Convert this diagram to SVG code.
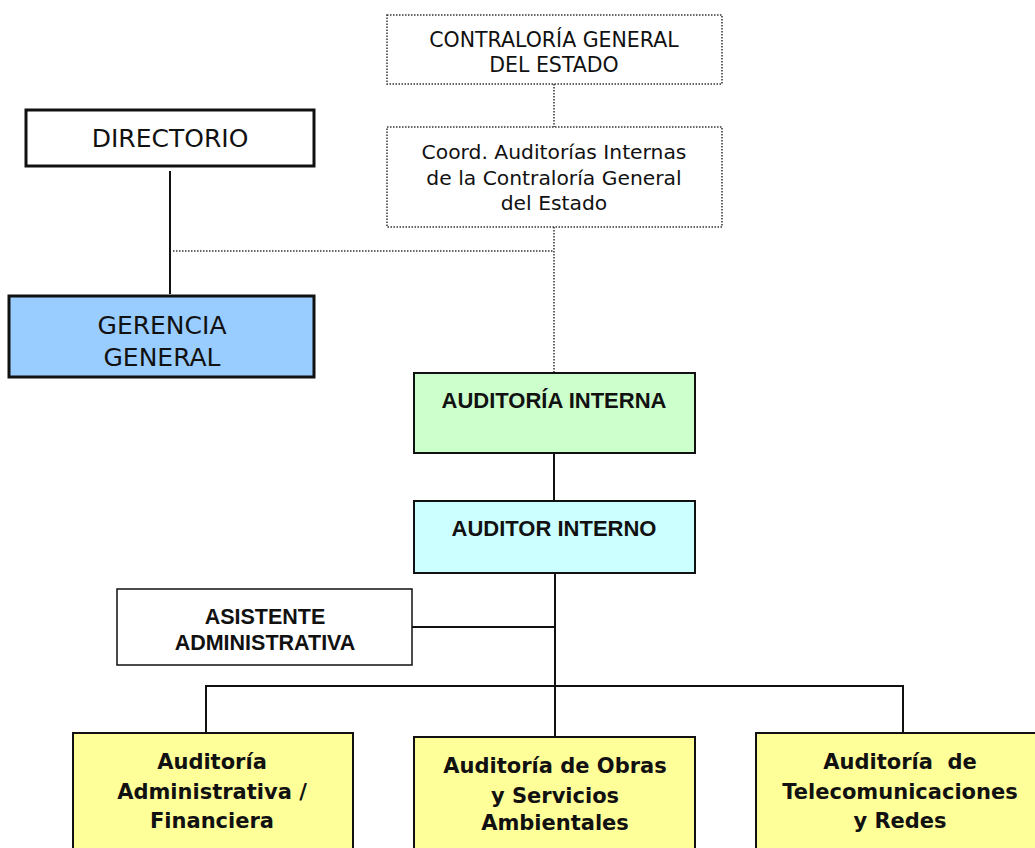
<svg xmlns="http://www.w3.org/2000/svg" width="1035" height="848" viewBox="0 0 1035 848">
<style>
.reg{font-family:"DejaVu Sans",Verdana,sans-serif;fill:#111;text-anchor:middle}
.bold{font-family:"Liberation Sans",Arial,sans-serif;font-weight:bold;fill:#111;text-anchor:middle}
.bold2{font-family:"DejaVu Sans",Verdana,sans-serif;font-weight:bold;fill:#111;text-anchor:middle;font-size:21px}
.dot{fill:#fff;stroke:#333;stroke-width:1.5;stroke-dasharray:1.5 1.5}
.thick{stroke:#111;stroke-width:3}
.box{stroke:#111;stroke-width:2}
.line{stroke:#111;stroke-width:2;fill:none}
.dline{stroke:#333;stroke-width:1.5;stroke-dasharray:1.5 1.5;fill:none}
</style>
<rect width="1035" height="848" fill="#fff"/>
<g id="connectors">
<path class="dline" d="M554 84V127M554 227V373M173 251H554"/>
<path class="line" d="M170 171V294M554 453V501M555 573V736M412 627H555M206 733V686H903V732"/>
</g>
<g id="contraloria">
<rect class="dot" x="387" y="15" width="335" height="69"/>
<text class="reg" x="554" y="47" font-size="20.5">CONTRALORÍA GENERAL</text>
<text class="reg" x="554" y="72" font-size="20.5">DEL ESTADO</text>
</g>
<g id="coord">
<rect class="dot" x="387" y="127" width="335" height="100"/>
<text class="reg" x="554" y="159" font-size="20.3">Coord. Auditorías Internas</text>
<text class="reg" x="554" y="185" font-size="20.3">de la Contraloría General</text>
<text class="reg" x="554" y="210" font-size="20.3">del Estado</text>
</g>
<g id="directorio">
<rect class="thick" fill="#fff" x="26" y="110" width="288" height="56"/>
<text class="reg" x="170" y="147" font-size="25">DIRECTORIO</text>
</g>
<g id="gerencia">
<rect class="thick" fill="#99CCFF" x="9" y="296" width="305" height="81"/>
<text class="reg" x="162" y="334" font-size="25">GERENCIA</text>
<text class="reg" x="162" y="366" font-size="25">GENERAL</text>
</g>
<g id="auditoria-interna">
<rect class="box" fill="#CCFFCC" x="414" y="373" width="281" height="80"/>
<text class="bold" x="554" y="408" font-size="22">AUDITORÍA INTERNA</text>
</g>
<g id="auditor-interno">
<rect class="box" fill="#CCFFFF" x="414" y="501" width="281" height="72"/>
<text class="bold" x="554" y="536" font-size="22">AUDITOR INTERNO</text>
</g>
<g id="asistente">
<rect stroke="#111" stroke-width="1.5" fill="#fff" x="117" y="589" width="295" height="76"/>
<text class="bold" x="265" y="624" font-size="21.5">ASISTENTE</text>
<text class="bold" x="265" y="650" font-size="21.5">ADMINISTRATIVA</text>
</g>
<g id="aud-admin">
<rect class="box" fill="#FFFF99" x="73" y="733" width="280" height="130"/>
<text class="bold2" x="212" y="769">Auditoría</text>
<text class="bold2" x="212" y="799">Administrativa /</text>
<text class="bold2" x="212" y="828">Financiera</text>
</g>
<g id="aud-obras">
<rect class="box" fill="#FFFF99" x="414" y="737" width="281" height="130"/>
<text class="bold2" x="555" y="773">Auditoría de Obras</text>
<text class="bold2" x="555" y="803">y Servicios</text>
<text class="bold2" x="555" y="830">Ambientales</text>
</g>
<g id="aud-telecom">
<rect class="box" fill="#FFFF99" x="756" y="733" width="290" height="130"/>
<text class="bold2" x="900" y="769" xml:space="preserve">Auditoría  de</text>
<text class="bold2" x="900" y="799">Telecomunicaciones</text>
<text class="bold2" x="900" y="828">y Redes</text>
</g>
</svg>
